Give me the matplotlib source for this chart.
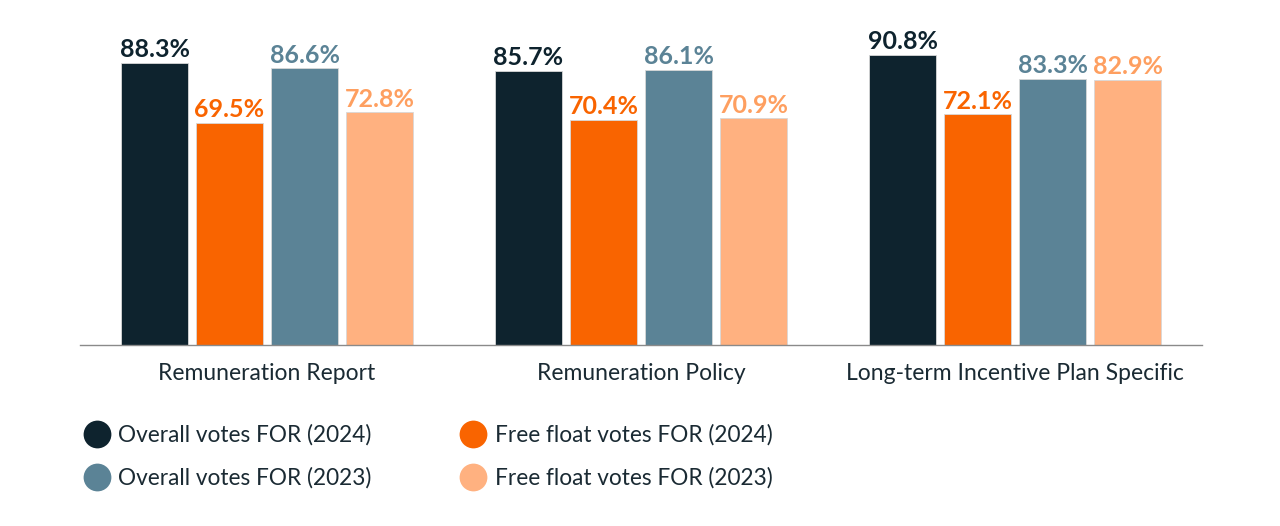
import numpy as np
import matplotlib.pyplot as plt
from matplotlib.lines import Line2D

categories = ["Remuneration Report", "Remuneration Policy", "Long-term Incentive Plan Specific"]
series_names = ["Overall votes FOR (2024)", "Free float votes FOR (2024)",
                "Overall votes FOR (2023)", "Free float votes FOR (2023)"]
overall_2024 = [88.3, 85.7, 90.8]
freefloat_2024 = [69.5, 70.4, 72.1]
overall_2023 = [86.6, 86.1, 83.3]
freefloat_2023 = [72.8, 70.9, 82.9]

bar_colors = ["#0e232e", "#f96400", "#5b8396", "#ffb180"]
label_colors = ["#0e232e", "#f96400", "#5b8396", "#fe9f60"]

plt.rcParams['font.family'] = ['Lato', 'DejaVu Sans']

fig = plt.figure(figsize=(12.8, 5.26), dpi=100)
ax = fig.add_axes([0.0625, 0.344, 0.8766, 0.608])

x = np.arange(len(categories))
w = 0.179
step = 0.2005
all_series = [overall_2024, freefloat_2024, overall_2023, freefloat_2023]
for i, vals in enumerate(all_series):
    pos = x + (i - 1.5) * step
    bars = ax.bar(pos, vals, width=w, color=bar_colors[i], edgecolor="#d8d8d8", linewidth=0.6)
    for b, v in zip(bars, vals):
        ax.text(b.get_x() + b.get_width() / 2, v + 0.5, f"{v}%", ha="center", va="bottom",
                fontsize=18, fontweight="bold", color=label_colors[i])

ax.set_xlim(-0.5, 2.5)
ax.set_ylim(0, 100)
ax.set_yticks([])
ax.set_xticks(x)
ax.set_xticklabels(categories, fontsize=16.5, color="#1a2a33")
ax.tick_params(axis="x", length=0, pad=13)
for s in ["top", "left", "right"]:
    ax.spines[s].set_visible(False)
ax.spines["bottom"].set_color("#8a8a8a")
ax.spines["bottom"].set_linewidth(1)

order = [0, 2, 1, 3]
handles = [Line2D([], [], marker="o", linestyle="none", markersize=20,
                  markerfacecolor=bar_colors[i], markeredgecolor="none") for i in order]
labels = [series_names[i] for i in order]
fig.legend(handles, labels, ncol=2, loc="upper left", bbox_to_anchor=(0.049, 0.232),
           frameon=False, fontsize=16.3, handletextpad=0.35, columnspacing=3.9,
           labelspacing=0.95, handlelength=1.2, labelcolor="#1a2a33")

fig.savefig("out.png", dpi=100)
